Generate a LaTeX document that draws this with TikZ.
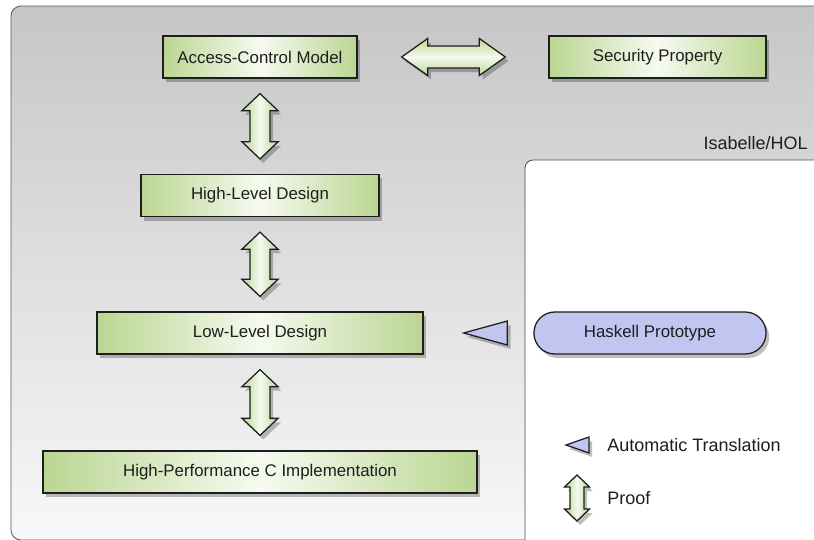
\documentclass[tikz,border=0pt]{standalone}
\usepackage{fontspec}
\setmainfont{Liberation Sans}
\usetikzlibrary{calc,shadows}
\definecolor{GreenBlock}{RGB}{186,214,146}
\definecolor{GreenLight}{RGB}{246,250,240}
\definecolor{BlueProto}{RGB}{192,198,240}
\definecolor{GrayTop}{RGB}{198,198,198}
\definecolor{GrayBottom}{RGB}{248,248,248}
\definecolor{InkDark}{RGB}{30,30,30}

\newcommand{\vproof}[5]{%
  \path[proofshape] (#1) -- ++(#3,#5) -- ++(#4-#3,0) -- ($(#2)+(#4,-#5)$) -- ++(#3-#4,0) -- (#2)
    -- ++(-#3,-#5) -- ++(#3-#4,0) -- ($(#1)+(-#4,#5)$) -- ++(#4-#3,0) -- cycle;}
\newcommand{\hproof}[5]{%
  \path[proofshape,top color=GreenBlock,bottom color=GreenBlock,middle color=GreenLight]
    (#1) -- ++(#5,-#3) -- ++(0,#3-#4) -- ($(#2)+(-#5,-#4)$) -- ++(0,#4-#3) -- (#2)
    -- ++(-#5,#3) -- ++(0,#4-#3) -- ($(#1)+(#5,#4)$) -- ++(0,#3-#4) -- cycle;}

\begin{document}
\begin{tikzpicture}[x=0.025cm,y=-0.025cm,
  shade/.style={drop shadow={shadow xshift=0.08cm,shadow yshift=-0.1cm,opacity=0.25,fill=black}},
  block/.style={draw=InkDark,line width=0.9pt,left color=GreenBlock,right color=GreenBlock,
    middle color=GreenLight,minimum height=1.05cm,inner sep=0pt,text=InkDark,
    font=\fontsize{12}{14}\selectfont,shade},
  proto/.style={draw=InkDark,line width=0.9pt,fill=BlueProto,rounded corners=0.52cm,
    minimum height=1.05cm,inner sep=0pt,text=InkDark,font=\fontsize{12}{14}\selectfont,shade},
  proofshape/.style={draw=InkDark,line width=0.9pt,left color=GreenBlock,right color=GreenBlock,
    middle color=GreenLight,shade},
  transl/.style={draw=InkDark,line width=0.9pt,fill=BlueProto,shade},
  label/.style={text=InkDark,font=\fontsize{12.8}{15}\selectfont,inner sep=0pt}]
  \clip (0,0) rectangle (814,539);
  \draw[draw=black!65,line width=0.6pt,top color=GrayTop,bottom color=GrayBottom,rounded corners=0.25cm]
    (11,6) rectangle (860,540);
  \draw[draw=black!70,line width=0.6pt,fill=white,rounded corners=0.2cm] (525,160) rectangle (860,580);
  \node[label,anchor=east] (hol) at (808,143) {Isabelle/HOL};

  \node[block,minimum width=4.85cm] (acm) at (260,57) {Access-Control Model};
  \node[block,minimum width=5.425cm] (sec) at (657.5,57) {Security Property};
  \node[block,minimum width=5.95cm] (hld) at (260,195.5) {High-Level Design};
  \node[block,minimum width=8.15cm] (lld) at (260,333) {Low-Level Design};
  \node[block,minimum width=10.85cm] (hpc) at (260,472) {High-Performance C Implementation};
  \node[proto,minimum width=5.8cm] (hask) at (650,333) {Haskell Prototype};

  \coordinate (hl) at ($(acm.east)+(44,0)$);
  \coordinate (hr) at ($(sec.west)+(-43,0)$);
  \hproof{hl}{hr}{18.5}{11}{26}
  \foreach \a/\b [count=\i] in {acm/hld,hld/lld,lld/hpc}{
    \coordinate (u\i) at ($(\a.south)+(0,15)$);
    \coordinate (d\i) at ($(\b.north)+(0,-15)$);
    \vproof{u\i}{d\i}{18}{10}{17}
  }
  \coordinate (tt) at ($(lld.east)+(40,0)$);
  \path[transl] (tt) -- ($(hask.west)+(-26,-12)$) -- ($(hask.west)+(-26,12)$) -- cycle;

  \coordinate (lt) at (566,445);
  \path[transl] (lt) -- (589,437) -- (589,453) -- cycle;
  \node[label,anchor=west] (auto) at (607,445) {Automatic Translation};
  \coordinate (lu) at (577,475);
  \coordinate (ld) at (577,521);
  \vproof{lu}{ld}{12.5}{7}{12}
  \node[label,anchor=west] (proof) at (607,498) {Proof};
\end{tikzpicture}
\end{document}
